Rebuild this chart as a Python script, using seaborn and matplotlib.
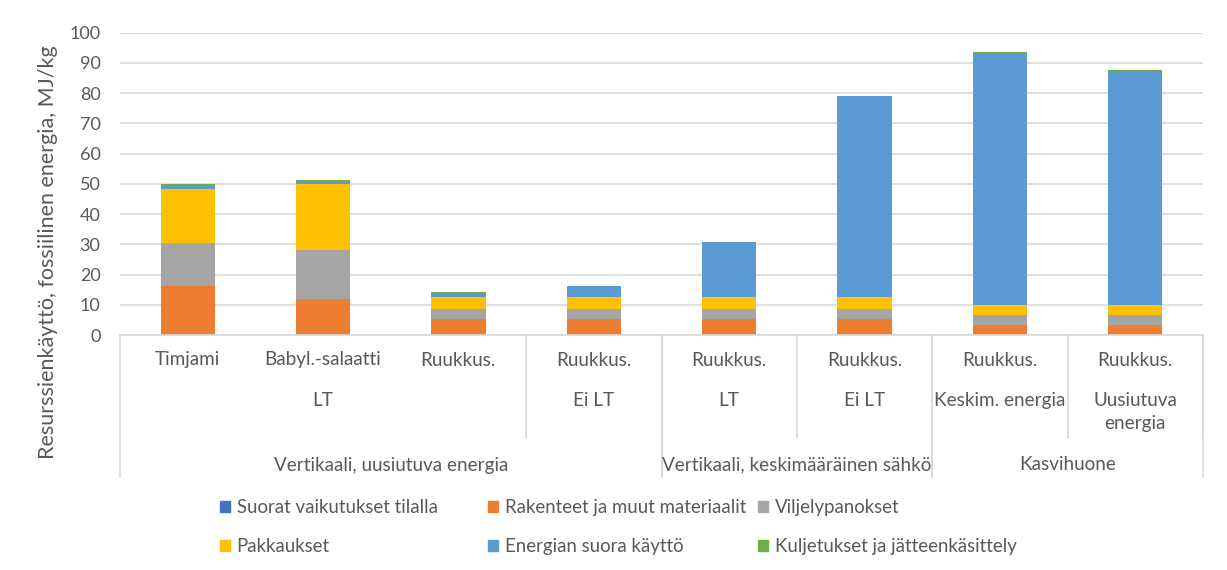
import numpy as np
import pandas as pd
import seaborn as sns
import matplotlib.pyplot as plt
import matplotlib.patches as mpatches
import matplotlib.transforms as mtransforms

sns.set_theme(style="white")
plt.rcParams['font.family'] = ['Lato', 'DejaVu Sans']

# Data (MJ/kg)
bar_ids = ["b1", "b2", "b3", "b4", "b5", "b6", "b7", "b8"]
level1 = ["Timjami", "Babyl.-salaatti", "Ruukkus.", "Ruukkus.",
          "Ruukkus.", "Ruukkus.", "Ruukkus.", "Ruukkus."]
level2 = [("LT", 0, 2), ("Ei LT", 3, 3), ("LT", 4, 4), ("Ei LT", 5, 5),
          ("Keskim. energia", 6, 6), ("Uusiutuva\nenergia", 7, 7)]
level3 = [("Vertikaali, uusiutuva energia", 0, 3),
          ("Vertikaali, keskimääräinen sähkö", 4, 5),
          ("Kasvihuone", 6, 7)]

series_names = ["Suorat vaikutukset tilalla", "Rakenteet ja muut materiaalit",
                "Viljelypanokset", "Pakkaukset", "Energian suora käyttö",
                "Kuljetukset ja jätteenkäsittely"]
suorat = [0.0, 0.0, 0.0, 0.0, 0.0, 0.0, 0.0, 0.0]
rakenteet = [16.1, 11.8, 5.4, 5.3, 5.3, 5.3, 3.4, 3.4]
viljely = [14.3, 16.2, 3.1, 3.2, 3.2, 3.2, 3.2, 3.2]
pakkaukset = [17.8, 22.1, 4.0, 4.0, 4.0, 4.0, 3.3, 3.3]
energia = [1.4, 1.0, 1.3, 3.6, 18.2, 66.4, 83.4, 77.4]
kuljetus = [0.3, 0.2, 0.3, 0.2, 0.2, 0.2, 0.2, 0.2]
colors = ["#4472C4", "#ED7D31", "#A5A5A5", "#FFC000", "#5B9BD5", "#70AD47"]

values = np.array([suorat, rakenteet, viljely, pakkaukset, energia, kuljetus])
tops = np.cumsum(values, axis=0)

df = pd.DataFrame(tops.T, columns=series_names)
df["bar"] = bar_ids

fig = plt.figure(figsize=(12.27, 5.7), dpi=100)
ax = fig.add_axes([120 / 1227, 1 - 335 / 570, (1203 - 120) / 1227, (335 - 32.7) / 570])

# stacked bars: draw cumulative totals from the top layer down
for i in range(len(series_names) - 1, -1, -1):
    sns.barplot(data=df, x="bar", y=series_names[i], order=bar_ids, color=colors[i],
                width=0.4, saturation=1, linewidth=0, ax=ax)

txt = "#595959"
line_c = "#D9D9D9"
ax.set_ylim(0, 100)
ax.set_xlim(-0.5, 7.5)
ax.set_yticks(range(0, 101, 10))
ax.yaxis.grid(True, color=line_c, linewidth=1.2)
ax.set_axisbelow(True)
ax.tick_params(axis="y", length=0, labelsize=13, labelcolor=txt, pad=14)
ax.set_xticks([])
ax.set_xlabel("")
ax.set_ylabel("")
for s in ["top", "left", "right"]:
    ax.spines[s].set_visible(False)
ax.spines["bottom"].set_color(line_c)
ax.spines["bottom"].set_linewidth(1.2)

# multi-level category axis
tr = mtransforms.blended_transform_factory(ax.transData, fig.transFigure)
fy = lambda p: 1 - p / 570
fs = 13.6
for i, lab in enumerate(level1):
    ax.text(i, fy(360), lab, transform=tr, ha="center", va="center", fontsize=fs, color=txt)
for lab, a, b in level2:
    ax.text((a + b) / 2, fy(392), lab, transform=tr, ha="center", va="top", fontsize=fs,
            color=txt, linespacing=1.4)
for lab, a, b in level3:
    ax.text((a + b) / 2, fy(465), lab, transform=tr, ha="center", va="center", fontsize=fs,
            color=txt)
for lab, a, b in level2:
    ax.plot([b + 0.5, b + 0.5], [fy(335), fy(438)], transform=tr, color=line_c, lw=1.2, clip_on=False)
for lab, a, b in level3:
    for xe in (a - 0.5, b + 0.5):
        ax.plot([xe, xe], [fy(335), fy(477)], transform=tr, color=line_c, lw=1.2, clip_on=False)

fig.text(48 / 1227, fy(252), "Resurssienkäyttö, fossiilinen energia, MJ/kg", rotation=90,
         ha="center", va="center", fontsize=15.5, color=txt)

# legend: three columns, two rows
col_x = [220, 488, 758]
for c in range(3):
    handles = [mpatches.Patch(color=colors[c]), mpatches.Patch(color=colors[c + 3])]
    labels = [series_names[c], series_names[c + 3]]
    fig.legend(handles, labels, loc="upper left", bbox_to_anchor=(col_x[c] / 1227, fy(499)),
               frameon=False, fontsize=13.4, labelcolor=txt, handlelength=0.55, handleheight=0.55,
               handletextpad=0.35, labelspacing=1.2, borderaxespad=0, borderpad=0)

fig.savefig("out.png", dpi=100, facecolor="white")
